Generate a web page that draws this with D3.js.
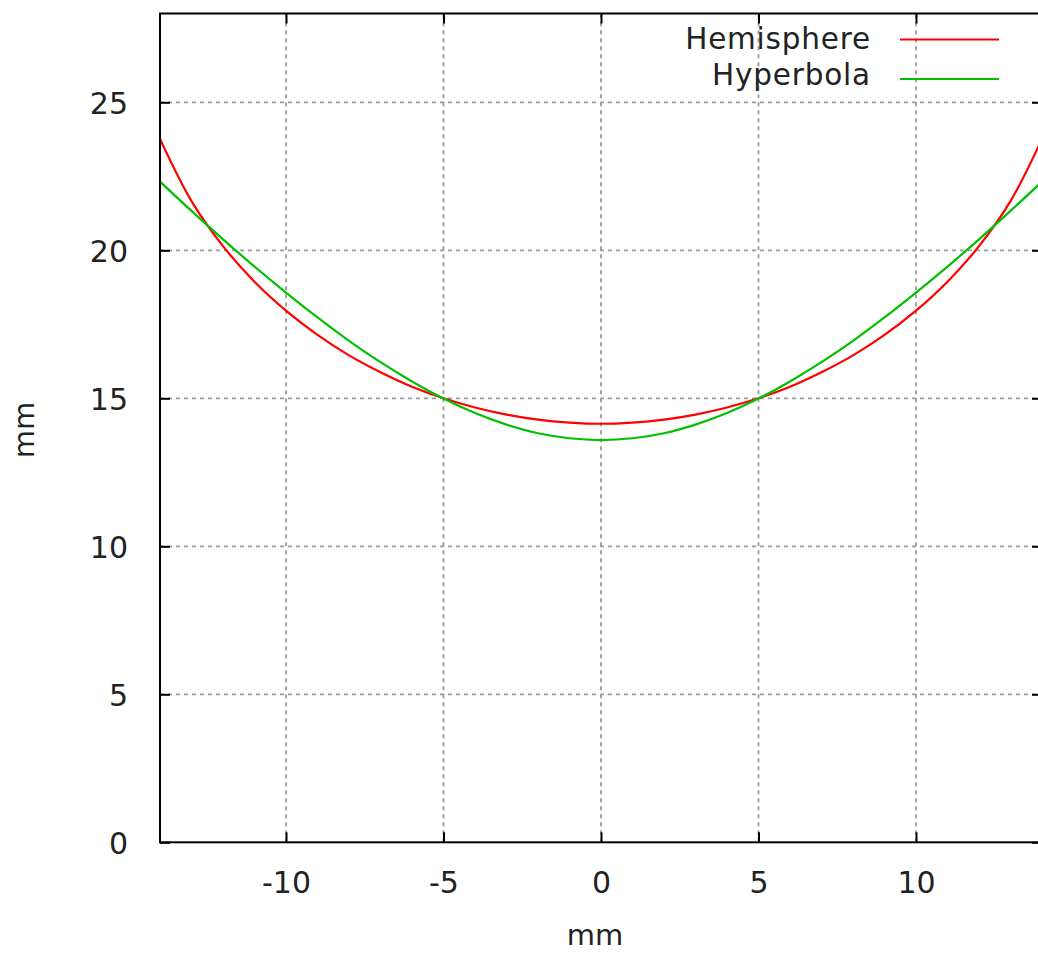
<!DOCTYPE html>
<html>
<head>
<meta charset="utf-8">
<script src="https://cdn.jsdelivr.net/npm/d3@7"></script>
<style>
  html, body { margin: 0; padding: 0; background: #fff; }
  svg { display: block; }
  text { font-family: "DejaVu Sans", sans-serif; fill: #222; }
</style>
</head>
<body>
<svg id="chart" width="1038" height="953"></svg>
<script>
// ---- data ----
const xValues = [-14,-13,-12,-11,-10,-9,-8,-7,-6,-5,-4,-3,-2,-1,0,1,2,3,4,5,6,7,8,9,10,11,12,13,14];
const hemisphere = [23.76,21.66,20.14,18.94,17.96,17.14,16.45,15.88,15.39,15.00,14.69,14.45,14.28,14.18,14.14,14.18,14.28,14.45,14.69,15.00,15.39,15.88,16.45,17.14,17.96,18.94,20.14,21.66,23.76];
const hyperbola  = [22.32,21.33,20.37,19.45,18.57,17.73,16.94,16.22,15.57,14.99,14.50,14.11,13.82,13.65,13.59,13.65,13.82,14.11,14.50,14.99,15.57,16.22,16.94,17.73,18.57,19.45,20.37,21.33,22.32];
const seriesNames = ["Hemisphere", "Hyperbola"];
const seriesColors = ["#ff0000", "#00c000"];
const xTicks = [-10, -5, 0, 5, 10];
const xTickLabels = ["-10", "-5", "0", "5", "10"];
const yTicks = [0, 5, 10, 15, 20, 25];
const yTickLabels = ["0", "5", "10", "15", "20", "25"];
const xDomain = [-14, 14];
const yDomain = [0, 28];
const xTitle = "mm";
const yTitle = "mm";

// ---- layout ----
const svg = d3.select("#chart");
const pL = 160, pR = 1042, pT = 13.5, pB = 842.3;
const x = d3.scaleLinear().domain(xDomain).range([pL, pR]);
const y = d3.scaleLinear().domain(yDomain).range([pB, pT]);

svg.append("defs").append("clipPath").attr("id", "plotclip")
  .append("rect").attr("x", pL).attr("y", pT).attr("width", pR - pL).attr("height", pB - pT);

// grid
const grid = svg.append("g").attr("stroke", "#9a9a9a").attr("stroke-width", 1.8).attr("stroke-dasharray", "4,4");
grid.selectAll("line.gx").data(xTicks).join("line").attr("class", "gx")
  .attr("x1", d => x(d)).attr("x2", d => x(d)).attr("y1", pB).attr("y2", pT);
grid.selectAll("line.gy").data(yTicks.filter(d => d > 0)).join("line").attr("class", "gy")
  .attr("y1", d => y(d)).attr("y2", d => y(d)).attr("x1", pL).attr("x2", pR);

// axes (ticks inward, mirrored)
const tickLen = 10;
const xFmt = d => xTickLabels[xTicks.indexOf(d)];
const yFmt = d => yTickLabels[yTicks.indexOf(d)];
const axBottom = d3.axisBottom(x).tickValues(xTicks).tickFormat(xFmt).tickSize(-tickLen).tickSizeOuter(0);
const axTop = d3.axisTop(x).tickValues(xTicks).tickSize(-tickLen).tickFormat("").tickSizeOuter(0);
const axLeft = d3.axisLeft(y).tickValues(yTicks).tickFormat(yFmt).tickSize(-tickLen).tickSizeOuter(0);
const axRight = d3.axisRight(y).tickValues(yTicks).tickSize(-tickLen).tickFormat("").tickSizeOuter(0);

function styleAxis(g) {
  g.select(".domain").remove();
  g.selectAll(".tick line").attr("stroke", "#000").attr("stroke-width", 2);
  g.selectAll(".tick text").attr("font-size", 30).attr("fill", "#222")
    .style("font-family", "'DejaVu Sans', sans-serif");
}
svg.append("g").attr("transform", `translate(0,${pB})`).call(axBottom).call(styleAxis)
  .selectAll(".tick text").attr("y", 29).attr("dy", "0.71em");
svg.append("g").attr("transform", `translate(0,${pT})`).call(axTop).call(styleAxis);
svg.append("g").attr("transform", `translate(${pL},0)`).call(axLeft).call(styleAxis)
  .selectAll(".tick text").attr("x", -32).attr("dy", "0.36em");
svg.append("g").attr("transform", `translate(${pR},0)`).call(axRight).call(styleAxis);

// curves
const series = [hemisphere, hyperbola];
const line = d3.line().x((d, i) => x(xValues[i])).y(d => y(d)).curve(d3.curveCatmullRom);
const plot = svg.append("g").attr("clip-path", "url(#plotclip)");
series.forEach((s, k) => {
  plot.append("path").datum(s).attr("d", line).attr("fill", "none")
    .attr("stroke", seriesColors[k]).attr("stroke-width", 2.2);
});

// border
svg.append("rect").attr("x", pL).attr("y", pT).attr("width", pR - pL).attr("height", pB - pT)
  .attr("fill", "none").attr("stroke", "#000").attr("stroke-width", 2);

// legend
const legendBase = [49, 85];
const legendLineY = [39.5, 79];
seriesNames.forEach((name, k) => {
  svg.append("text").attr("x", 871).attr("y", legendBase[k]).attr("text-anchor", "end")
    .attr("font-size", 29.5).attr("letter-spacing", 0.8).text(name);
  svg.append("line").attr("x1", 900).attr("x2", 999).attr("y1", legendLineY[k]).attr("y2", legendLineY[k])
    .attr("stroke", seriesColors[k]).attr("stroke-width", 2.2);
});

// axis titles
svg.append("text").attr("x", 595).attr("y", 945).attr("text-anchor", "middle").attr("font-size", 29).text(xTitle);
svg.append("text").attr("transform", "translate(34,430) rotate(-90)").attr("text-anchor", "middle")
  .attr("font-size", 29).text(yTitle);
</script>
</body>
</html>
